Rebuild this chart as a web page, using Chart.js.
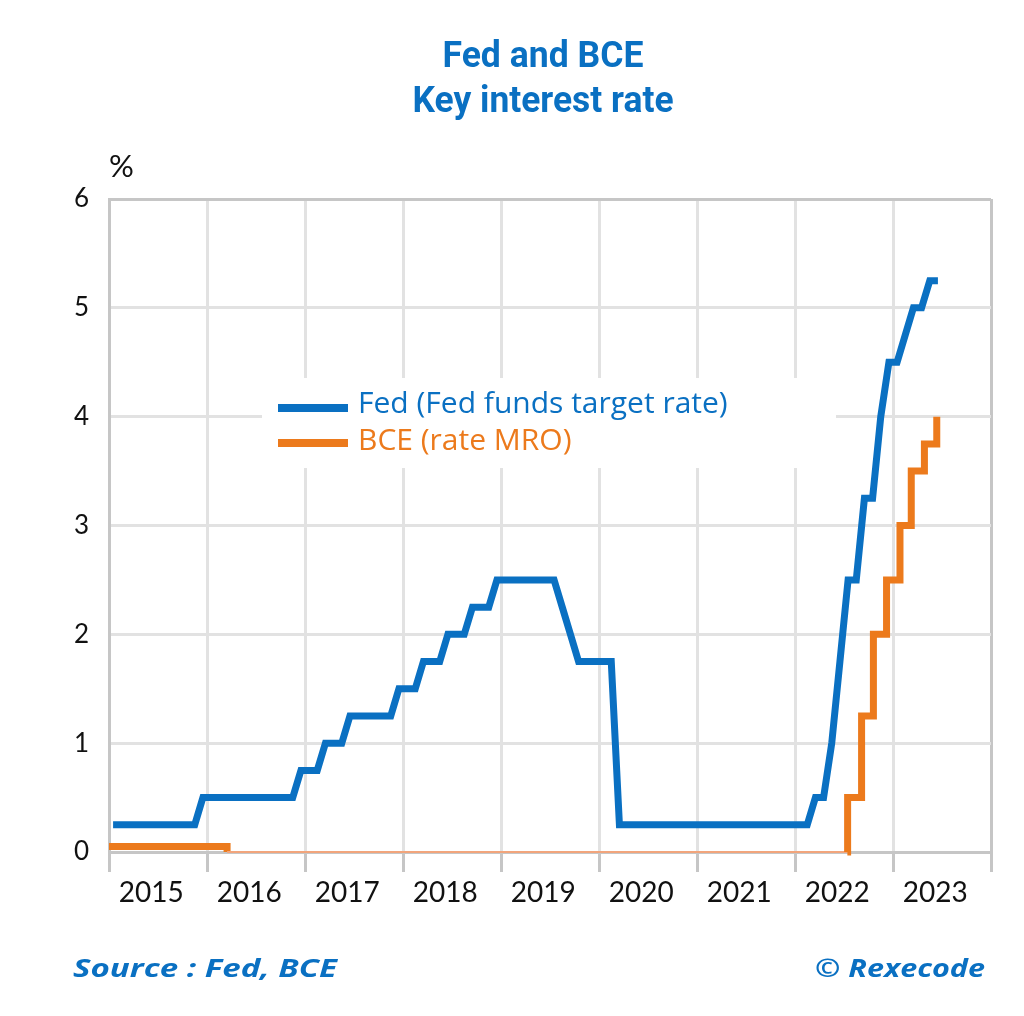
<!DOCTYPE html>
<html>
<head>
<meta charset="utf-8">
<title>Fed and BCE - Key interest rate</title>
<script src="https://cdn.jsdelivr.net/npm/chart.js@4.4.0/dist/chart.umd.min.js"></script>
<style>
  body { margin: 0; background: #fff; }
  canvas { display: block; }
</style>
</head>
<body>
<canvas id="myChart" width="1024" height="1016"></canvas>
<script>

// Fed funds target rate (upper bound), monthly, %
const fed2015 = [0.25, 0.25, 0.25, 0.25, 0.25, 0.25, 0.25, 0.25, 0.25, 0.25, 0.25, 0.5];
const fed2016 = [0.5, 0.5, 0.5, 0.5, 0.5, 0.5, 0.5, 0.5, 0.5, 0.5, 0.5, 0.75];
const fed2017 = [0.75, 0.75, 1, 1, 1, 1.25, 1.25, 1.25, 1.25, 1.25, 1.25, 1.5];
const fed2018 = [1.5, 1.5, 1.75, 1.75, 1.75, 2, 2, 2, 2.25, 2.25, 2.25, 2.5];
const fed2019 = [2.5, 2.5, 2.5, 2.5, 2.5, 2.5, 2.5, 2.25, 2, 1.75, 1.75, 1.75];
const fed2020 = [1.75, 1.75, 0.25, 0.25, 0.25, 0.25, 0.25, 0.25, 0.25, 0.25, 0.25, 0.25];
const fed2021 = [0.25, 0.25, 0.25, 0.25, 0.25, 0.25, 0.25, 0.25, 0.25, 0.25, 0.25, 0.25];
const fed2022 = [0.25, 0.25, 0.5, 0.5, 1, 1.75, 2.5, 2.5, 3.25, 3.25, 4, 4.5];
const fed2023 = [4.5, 4.75, 5, 5, 5.25, 5.25];

// BCE main refinancing rate, change dates
const bceDates = ['2015-01-01', '2016-03-16', '2022-07-15', '2022-07-16', '2022-09-06', '2022-10-20',
                  '2022-12-08', '2023-01-27', '2023-03-10', '2023-04-28', '2023-06-13'];
const bceRates = [0.05, 0, 0, 0.5, 1.25, 2, 2.5, 3, 3.5, 3.75, 4];

const yearLabels = ['2015', '2016', '2017', '2018', '2019', '2020', '2021', '2022', '2023'];
const firstYear = 2015;
const lastYear = 2024;

const BLUE = '#0A70C2';
const ORANGE = '#EC7A1C';
const GRID = '#e2e2e2';
const EDGE = '#c6c6c6';

function yearFrac(s) {
  let d = new Date(s + 'T00:00:00Z');
  let y = d.getUTCFullYear();
  return y + (d - Date.UTC(y, 0, 1)) / (Date.UTC(y + 1, 0, 1) - Date.UTC(y, 0, 1));
}

let fedRates = [].concat(fed2015, fed2016, fed2017, fed2018, fed2019, fed2020, fed2021, fed2022, fed2023);
let fedData = fedRates.map((v, i) => ({ x: firstYear + (i + 0.5) / 12, y: v }));
let bceData = bceDates.map((d, i) => ({ x: yearFrac(d), y: bceRates[i] }));

// text squeezed or stretched horizontally to a given width
function fitText(ctx, text, x, y, width, align) {
  let w = ctx.measureText(text).width;
  let k = width / w;
  ctx.save();
  ctx.textAlign = 'left';
  let left = align === 'center' ? x - width / 2 : (align === 'right' ? x - width : x);
  ctx.translate(left, y);
  ctx.scale(k, 1);
  ctx.fillText(text, 0, 0);
  ctx.restore();
}

const decor = {
  id: 'decor',
  beforeDatasetsDraw(chart) {
    let ctx = chart.ctx;
    ctx.save();
    // white legend box over the grid
    ctx.fillStyle = '#fff';
    ctx.fillRect(262, 378, 574, 90);
    ctx.font = '30px "Open Sans", Lato, sans-serif';
    ctx.textBaseline = 'alphabetic';
    chart.data.datasets.forEach((ds, i) => {
      let y = 408 + i * 35;
      ctx.fillStyle = ds.borderColor;
      ctx.fillRect(278, y - 4, 70, 8);
      ctx.fillText(ds.label, 358, y + 5 + i * 2);
    });
    ctx.restore();
  },
  afterDraw(chart) {
    let ctx = chart.ctx;
    ctx.save();
    ctx.fillStyle = BLUE;
    ctx.textBaseline = 'alphabetic';
    ctx.font = 'bold 36px Roboto, "Liberation Sans", sans-serif';
    fitText(ctx, 'Fed and BCE', 543, 67, 201, 'center');
    fitText(ctx, 'Key interest rate', 543, 112, 261, 'center');

    ctx.fillStyle = '#111';
    ctx.textAlign = 'left';
    ctx.font = '31px Lato, sans-serif';
    ctx.fillText('%', 109, 177);

    ctx.fillStyle = BLUE;
    ctx.font = 'italic bold 25px "Open Sans", sans-serif';
    fitText(ctx, 'Source : Fed, BCE', 73, 977, 264, 'left');
    fitText(ctx, '\u00A9 Rexecode', 985, 977, 170, 'right');
    ctx.restore();
  }
};

var ctx = document.getElementById('myChart').getContext('2d');
var chart = new Chart(ctx, {
  type: 'line',
  data: {
    datasets: [{
      label: 'Fed (Fed funds target rate)',
      data: fedData,
      borderColor: BLUE,
      borderWidth: 7,
      borderJoinStyle: 'miter',
      pointRadius: 0,
      tension: 0,
      fill: false,
      clip: false
    }, {
      label: 'BCE (rate MRO)',
      data: bceData,
      borderColor: ORANGE,
      borderWidth: 7,
      borderJoinStyle: 'miter',
      stepped: true,
      pointRadius: 0,
      fill: false,
      clip: false,
      segment: {
        borderWidth: (c) => (c.p0.parsed.y === 0 && c.p1.parsed.y === 0) ? 2 : 7,
        borderColor: (c) => (c.p0.parsed.y === 0 && c.p1.parsed.y === 0) ? '#F2A57C' : ORANGE
      }
    }]
  },
  options: {
    responsive: false,
    animation: false,
    layout: { padding: { left: 49, right: 33, top: 199, bottom: 104 } },
    plugins: {
      legend: { display: false },
      title: { display: false },
      tooltip: { enabled: false }
    },
    scales: {
      x: {
        type: 'linear',
        min: firstYear,
        max: lastYear,
        afterFit: (scale) => { scale.height = 60; },
        afterBuildTicks: (axis) => {
          let ticks = [];
          for (let y = firstYear; y <= lastYear; y++) {
            ticks.push({ value: y });
            if (y < lastYear) ticks.push({ value: y + 0.43 });
          }
          axis.ticks = ticks;
        },
        grid: {
          lineWidth: 3,
          tickLength: 20,
          tickWidth: 3,
          color: (c) => {
            let v = c.tick && c.tick.value;
            if (!Number.isInteger(v)) return 'rgba(0,0,0,0)';
            return (v === firstYear || v === lastYear) ? EDGE : GRID;
          },
          tickColor: (c) => Number.isInteger(c.tick && c.tick.value) ? EDGE : 'rgba(0,0,0,0)'
        },
        border: { color: EDGE, width: 3 },
        ticks: {
          autoSkip: false,
          maxRotation: 0,
          padding: 4,
          color: '#111',
          font: { family: 'Lato, sans-serif', size: 28 },
          callback: (v) => Number.isInteger(v) ? '' : yearLabels[Math.floor(v) - firstYear]
        }
      },
      y: {
        min: 0,
        max: 6,
        afterFit: (scale) => { scale.width = 60; },
        grid: {
          lineWidth: 3,
          drawTicks: false,
          color: (c) => (c.tick && c.tick.value === 6) ? EDGE : GRID
        },
        border: { color: EDGE, width: 3 },
        ticks: {
          stepSize: 1,
          padding: 20,
          color: '#111',
          font: { family: 'Lato, sans-serif', size: 26 }
        }
      }
    }
  },
  plugins: [decor]
});

</script>
</body>
</html>
